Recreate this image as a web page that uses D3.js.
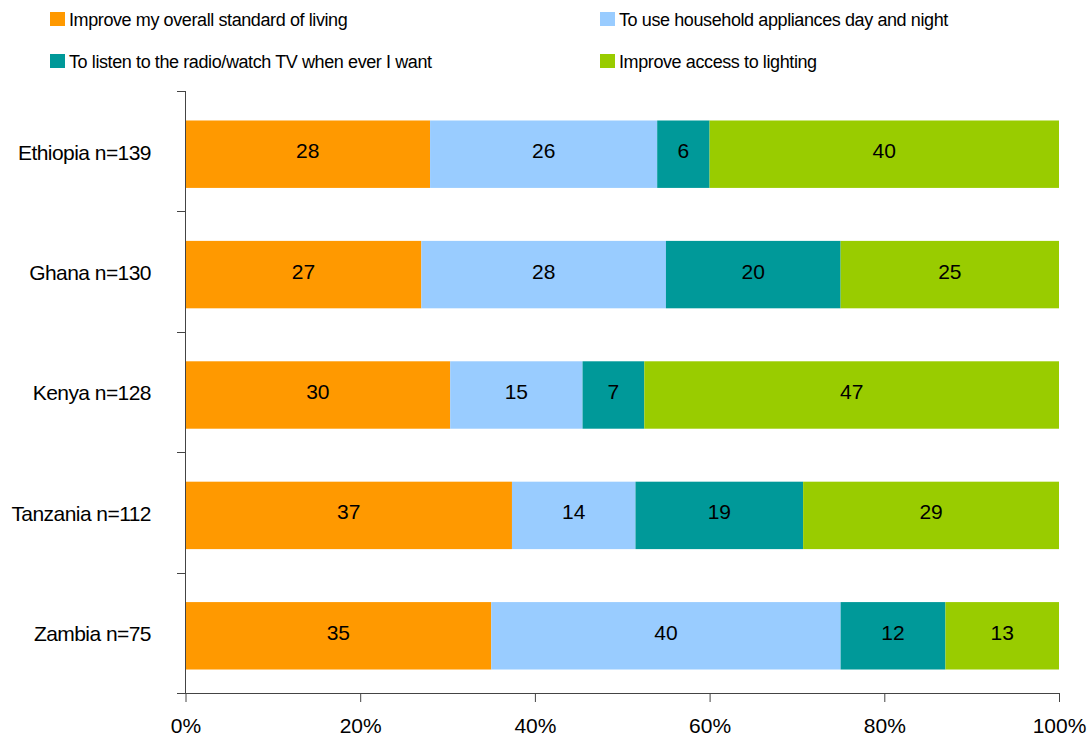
<!DOCTYPE html>
<html><head><meta charset="utf-8">
<script src="https://cdn.jsdelivr.net/npm/d3@7"></script>
<style>body{margin:0;background:#fff}svg{display:block}text{font-family:"Liberation Sans",Arial,sans-serif;fill:#000}</style>
</head><body><svg id="c" width="1089" height="737"></svg>
<script>
const categories = ["Ethiopia n=139","Ghana n=130","Kenya n=128","Tanzania n=112","Zambia n=75"];
const seriesNames = ["Improve my overall standard of living","To use household appliances day and night","To listen to the radio/watch TV when ever I want","Improve access to lighting"];
const standardOfLiving = [28,27,30,37,35];
const appliances = [26,28,15,14,40];
const radioTV = [6,20,7,19,12];
const lighting = [40,25,47,29,13];
const tickLabels = ["0%","20%","40%","60%","80%","100%"];
const colors = ["#FF9900","#99CCFF","#009999","#99CC00"];

const series = [standardOfLiving, appliances, radioTV, lighting];
const rows = categories.map((c,i)=>{const o={cat:c}; series.forEach((s,j)=>o["s"+j]=s[i]); return o;});
const keys = series.map((s,j)=>"s"+j);
const stack = d3.stack().keys(keys).offset(d3.stackOffsetExpand);
const stacked = stack(rows);

const svg = d3.select("#c");
const x = d3.scaleLinear().domain([0,1]).range([185.5,1059]);
const y = d3.scaleBand().domain(categories).range([94,696]).paddingInner(0.44).paddingOuter(0.22);

// bars
const g = svg.append("g");
stacked.forEach((layer,j)=>{
  g.selectAll(null).data(layer).enter().append("rect")
    .attr("x",d=>x(d[0])).attr("y",d=>y(d.data.cat))
    .attr("width",d=>x(d[1])-x(d[0])).attr("height",y.bandwidth())
    .attr("fill",colors[j]);
  g.selectAll(null).data(layer).enter().append("text")
    .attr("x",d=>(x(d[0])+x(d[1]))/2).attr("y",d=>y(d.data.cat)+y.bandwidth()/2)
    .attr("dy","0.19em").attr("text-anchor","middle").style("font-size","21px")
    .text(d=>d.data["s"+j]);
});

// x axis
const xa = svg.append("g").attr("transform","translate(0,693)")
  .call(d3.axisBottom(x).tickValues([0,0.2,0.4,0.6,0.8,1]).tickFormat((d,i)=>tickLabels[i]).tickSize(9).tickSizeOuter(0).tickPadding(16));
xa.selectAll("text").style("font-size","21px").style("font-family","'Liberation Sans',Arial,sans-serif");
xa.select(".domain").attr("d","M177,0.5H"+1059);

// y axis line and boundary ticks
const ya = svg.append("g");
ya.append("line").attr("x1",185.5).attr("x2",185.5).attr("y1",91).attr("y2",693).attr("stroke","#444");
const bounds = d3.range(categories.length+1).map(i=>91+i*(602/categories.length));
ya.selectAll(null).data(bounds).enter().append("line")
  .attr("x1",177).attr("x2",185.5).attr("y1",d=>Math.round(d)+0.5).attr("y2",d=>Math.round(d)+0.5).attr("stroke","#444");
svg.selectAll(".domain, .tick line").attr("stroke","#444");
ya.selectAll(null).data(categories).enter().append("text")
  .attr("x",151).attr("y",d=>y(d)+y.bandwidth()/2).attr("dy","0.26em")
  .attr("text-anchor","end").style("font-size","21px").style("letter-spacing","-0.55px").text(d=>d);

// legend
const legPos = [[50,12],[600,12],[50,54],[600,54]];
seriesNames.forEach((name,k)=>{
  const [lx,ly]=legPos[k];
  svg.append("rect").attr("x",lx).attr("y",ly).attr("width",15).attr("height",14).attr("fill",colors[k]);
  svg.append("text").attr("x",lx+19).attr("y",ly+14).style("font-size","18px").style("letter-spacing","-0.4px").text(name);
});
</script></body></html>
